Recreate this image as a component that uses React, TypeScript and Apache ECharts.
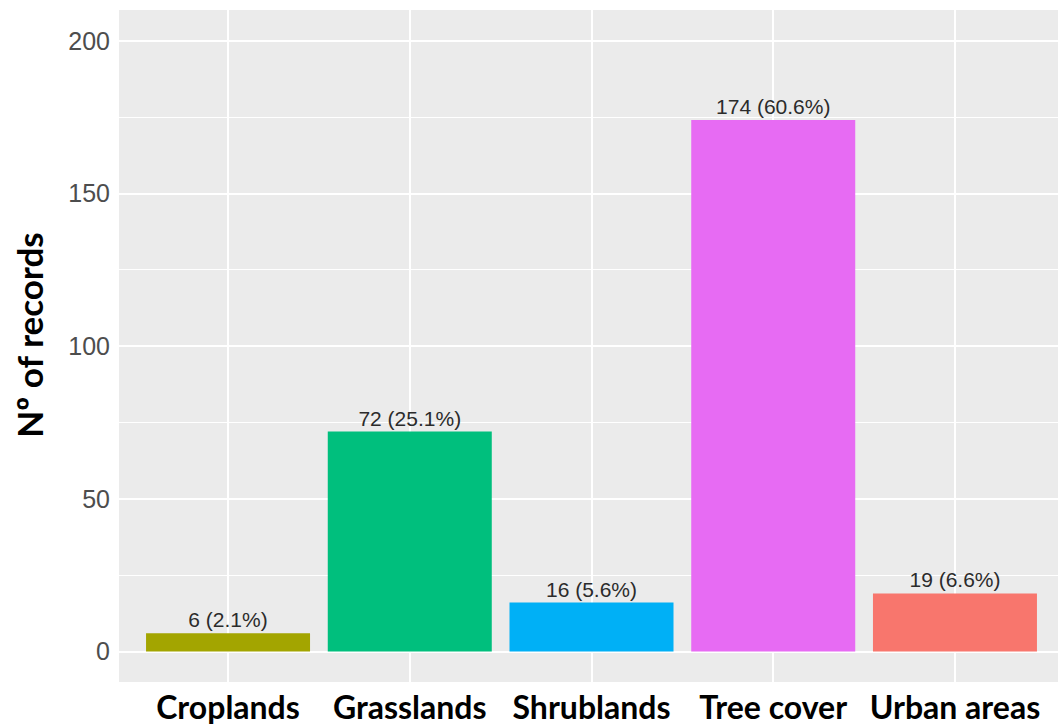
import React, { useEffect, useRef } from "react";
import * as echarts from "echarts";

const categories = ["Croplands", "Grasslands", "Shrublands", "Tree cover", "Urban areas"];
const counts = [6, 72, 16, 174, 19];
const percents = ["2.1", "25.1", "5.6", "60.6", "6.6"];
const barColors = ["#A3A500", "#00BF7D", "#00B0F6", "#E76BF3", "#F8766D"];
const yTicks = [0, 50, 100, 150, 200];
const yMinorTicks = [25, 75, 125, 175];
const xTicks = [0, 1, 2, 3, 4];

export default function App() {
  const ref = useRef<HTMLDivElement>(null);
  useEffect(() => {
    if (!ref.current) return;
    const chart = echarts.init(ref.current, null, { renderer: "svg" });
    const gridLines = [
      ...yTicks.map((v) => ({ yAxis: v, lineStyle: { width: 2 } })),
      ...yMinorTicks.map((v) => ({ yAxis: v, lineStyle: { width: 1 } })),
      ...xTicks.map((v) => ({ xAxis: v, lineStyle: { width: 2 } })),
    ];
    chart.setOption({
      animation: false,
      grid: {
        left: 119,
        top: 10,
        width: 945,
        height: 672,
        show: true,
        backgroundColor: "#EBEBEB",
        borderWidth: 0,
        containLabel: false,
        outerBoundsMode: "none",
      },
      xAxis: {
        type: "value",
        min: -0.6,
        max: 4.6,
        splitLine: { show: false },
        axisLine: { show: false },
        axisTick: { show: true, customValues: xTicks, length: 4, lineStyle: { color: "#333", width: 1 } },
        axisLabel: {
          customValues: xTicks,
          formatter: (v: number) => categories[Math.round(v)] ?? "",
          color: "#000",
          fontFamily: "Lato",
          fontWeight: "bold",
          fontSize: 32,
          margin: 8,
        },
      },
      yAxis: {
        type: "value",
        min: -10,
        max: 210,
        name: "Nº of records",
        nameLocation: "middle",
        nameRotate: 90,
        nameGap: 73,
        nameTextStyle: {
          color: "#000",
          fontFamily: "Lato",
          fontWeight: "bold",
          fontSize: 35,
          padding: [0, 0, 0, 22],
        },
        splitLine: { show: false },
        axisLine: { show: false },
        axisTick: { show: true, customValues: yTicks, length: 4, lineStyle: { color: "#333", width: 1 } },
        axisLabel: {
          customValues: yTicks,
          color: "#4D4D4D",
          fontFamily: "Liberation Sans",
          fontSize: 25,
          margin: 9,
        },
      },
      series: [
        {
          type: "bar",
          z: 2,
          barWidth: 164,
          data: counts.map((c, i) => ({ value: [i, c], itemStyle: { color: barColors[i] } })),
          label: {
            show: true,
            position: "top",
            distance: 3,
            color: "#2b2b2b",
            fontFamily: "Liberation Sans",
            fontSize: 21,
            formatter: (p: any) => `${counts[p.dataIndex]} (${percents[p.dataIndex]}%)`,
          },
          markLine: {
            z: 1,
            silent: true,
            symbol: "none",
            label: { show: false },
            lineStyle: { color: "#FFFFFF", type: "solid" },
            emphasis: { disabled: true },
            data: gridLines,
          },
        },
      ],
    });
    return () => chart.dispose();
  }, []);
  return (
    <div style={{ position: "absolute", left: 0, top: 0, width: 1058, height: 725, overflow: "hidden", background: "#fff" }}>
      <div ref={ref} style={{ width: 1080, height: 725 }} />
    </div>
  );
}
